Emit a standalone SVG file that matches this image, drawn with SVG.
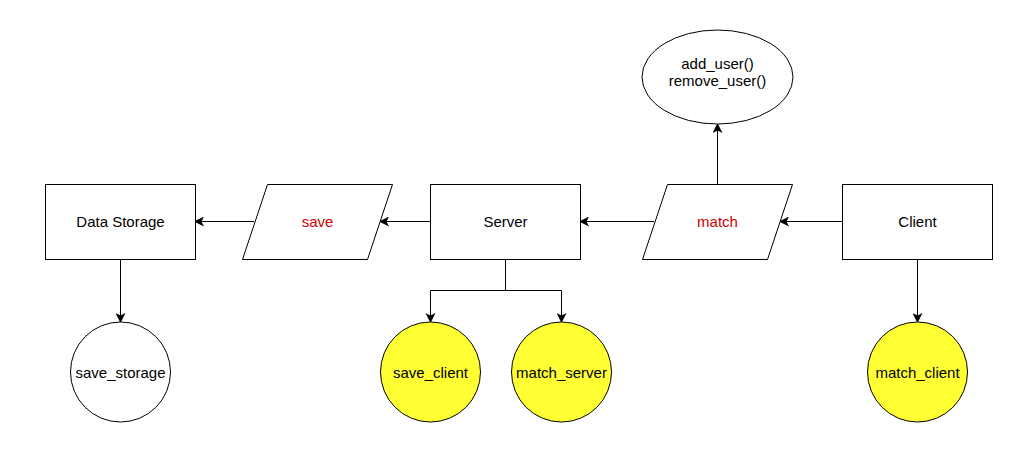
<svg xmlns="http://www.w3.org/2000/svg" width="1025" height="455" viewBox="0 0 1025 455">
<defs>
<style>
.s{fill:#fff;stroke:#000;stroke-width:1}
.y{fill:#ffff33;stroke:#000;stroke-width:1}
.e{fill:none;stroke:#000;stroke-width:1}
text{font-family:"Liberation Sans",Arial,sans-serif;font-size:15px;text-anchor:middle;fill:#000}
.r{fill:#cc0000}
</style>
<marker id="a" viewBox="0 0 10 10" refX="9" refY="5" markerWidth="10" markerHeight="10" markerUnits="userSpaceOnUse" orient="auto">
<path d="M0,0 L10,5 L0,10 L2.5,5 Z" fill="#000"/>
</marker>
</defs>
<rect width="1025" height="455" fill="#fff"/>
<g id="connectors">
<path class="e" d="M842,221.5 H780" marker-end="url(#a)"/>
<path class="e" d="M654,221.5 H580" marker-end="url(#a)"/>
<path class="e" d="M430,221.5 H380" marker-end="url(#a)"/>
<path class="e" d="M254,221.5 H195" marker-end="url(#a)"/>
<path class="e" d="M717.5,184 V124" marker-end="url(#a)"/>
<path class="e" d="M120.5,259 V322" marker-end="url(#a)"/>
<path class="e" d="M505.5,259 V290.5 H430.5 V322" marker-end="url(#a)"/>
<path class="e" d="M505.5,290.5 H561.5 V322" marker-end="url(#a)"/>
<path class="e" d="M917.5,259 V322" marker-end="url(#a)"/>
</g>
<g id="data-storage"><rect class="s" x="45.5" y="184.5" width="150" height="75"/><text x="120.5" y="227">Data Storage</text></g>
<g id="save"><path class="s" d="M267.5,184.5 H392.5 L367.5,259.5 H242.5 Z"/><text class="r" x="317.5" y="227">save</text></g>
<g id="server"><rect class="s" x="430.5" y="184.5" width="150" height="75"/><text x="505.5" y="227">Server</text></g>
<g id="match"><path class="s" d="M667.5,184.5 H792.5 L767.5,259.5 H642.5 Z"/><text class="r" x="717.5" y="227">match</text></g>
<g id="client"><rect class="s" x="842.5" y="184.5" width="150" height="75"/><text x="917.5" y="227">Client</text></g>
<g id="user-ops"><ellipse class="s" cx="717.5" cy="77" rx="75.5" ry="47"/><text x="717.5" y="68.5">add_user()</text><text x="717.5" y="86">remove_user()</text></g>
<g id="save-storage"><circle class="s" cx="120.5" cy="372" r="50"/><text x="120.5" y="377.5">save_storage</text></g>
<g id="save-client"><circle class="y" cx="430.5" cy="372" r="50"/><text x="430.5" y="377.5">save_client</text></g>
<g id="match-server"><circle class="y" cx="561.5" cy="372" r="50"/><text x="561.5" y="377.5">match_server</text></g>
<g id="match-client"><circle class="y" cx="917.5" cy="372" r="50"/><text x="917.5" y="377.5">match_client</text></g>
</svg>
